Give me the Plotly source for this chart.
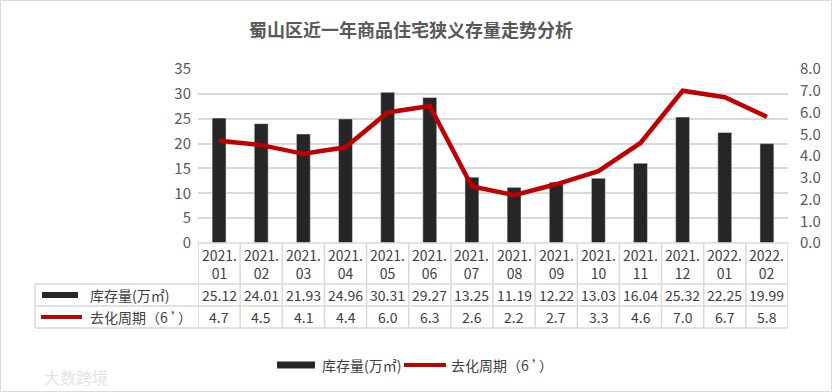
import plotly.graph_objects as go

categories = ["2021.01", "2021.02", "2021.03", "2021.04", "2021.05", "2021.06", "2021.07",
              "2021.08", "2021.09", "2021.10", "2021.11", "2021.12", "2022.01", "2022.02"]
inventory = [25.12, 24.01, 21.93, 24.96, 30.31, 29.27, 13.25, 11.19, 12.22, 13.03, 16.04, 25.32, 22.25, 19.99]
cycle = [4.7, 4.5, 4.1, 4.4, 6.0, 6.3, 2.6, 2.2, 2.7, 3.3, 4.6, 7.0, 6.7, 5.8]
bar_name = "库存量(万㎡)"
line_name = "去化周期（6 ’）"
title_text = "蜀山区近一年商品住宅狭义存量走势分析"

W, H = 832, 392
L, R, T, B = 198, 788, 69, 243
PW, PH = R - L, B - T

def xp(px):
    return (px - L) / PW

def yp(py):
    return (B - py) / PH

BAR_C = "#262626"
LINE_C = "#C00000"
TXT = "#595959"
GRID = "#D9D9D9"
FONT = "Noto Sans CJK SC, Microsoft YaHei, sans-serif"

idx = list(range(len(categories)))

fig = go.Figure()
fig.add_trace(go.Bar(x=idx, y=inventory, name=bar_name, marker_color=BAR_C,
                     yaxis="y", showlegend=False, width=0.33))
fig.add_trace(go.Scatter(x=idx, y=cycle, name=line_name, mode="lines",
                         line=dict(color=LINE_C, width=4.5), yaxis="y2", showlegend=False))

shapes = []
ann = []

# table grid
n = len(categories)
tbl_top, r1, r2, tbl_bot = 243, 284, 306, 328
for k in range(n + 1):
    shapes.append(dict(type="line", xref="x", yref="paper", x0=k - 0.5, x1=k - 0.5,
                       y0=yp(tbl_top), y1=yp(tbl_bot), line=dict(color=GRID, width=1.5)))
for y in (tbl_top, r1, r2, tbl_bot):
    x0 = L if y == tbl_top else 35
    shapes.append(dict(type="line", xref="paper", yref="paper", x0=xp(x0), x1=xp(R),
                       y0=yp(y), y1=yp(y), line=dict(color=GRID, width=1.5)))
shapes.append(dict(type="line", xref="paper", yref="paper", x0=xp(35), x1=xp(35),
                   y0=yp(r1), y1=yp(tbl_bot), line=dict(color=GRID, width=1.5)))

# table legend keys
shapes.append(dict(type="rect", xref="paper", yref="paper", x0=xp(42), x1=xp(78),
                   y0=yp(298), y1=yp(292), fillcolor=BAR_C, line=dict(width=0)))
shapes.append(dict(type="line", xref="paper", yref="paper", x0=xp(41), x1=xp(82),
                   y0=yp(317), y1=yp(317), line=dict(color=LINE_C, width=4)))
ann.append(dict(text=bar_name, xref="paper", yref="paper", x=xp(88), y=yp(295),
                xanchor="left", yanchor="middle", showarrow=False,
                font=dict(size=14, color="#404040", family=FONT)))
ann.append(dict(text=line_name, xref="paper", yref="paper", x=xp(88), y=yp(317),
                xanchor="left", yanchor="middle", showarrow=False,
                font=dict(size=14, color="#404040", family=FONT)))

for i, c in enumerate(categories):
    ann.append(dict(text=c.replace(".", ".<br>"), xref="x", yref="paper", x=i, y=yp(263.5),
                    xanchor="center", yanchor="middle", showarrow=False,
                    font=dict(size=14, color="#404040", family=FONT)))
    ann.append(dict(text=f"{inventory[i]:.2f}", xref="x", yref="paper", x=i, y=yp(295),
                    xanchor="center", yanchor="middle", showarrow=False,
                    font=dict(size=14, color="#404040", family=FONT)))
    ann.append(dict(text=f"{cycle[i]:.1f}", xref="x", yref="paper", x=i, y=yp(317),
                    xanchor="center", yanchor="middle", showarrow=False,
                    font=dict(size=14, color="#404040", family=FONT)))

# bottom legend
shapes.append(dict(type="rect", xref="paper", yref="paper", x0=xp(277), x1=xp(315),
                   y0=yp(368.5), y1=yp(361.5), fillcolor=BAR_C, line=dict(width=0)))
ann.append(dict(text=bar_name, xref="paper", yref="paper", x=xp(320), y=yp(365),
                xanchor="left", yanchor="middle", showarrow=False,
                font=dict(size=14, color="#404040", family=FONT)))
shapes.append(dict(type="line", xref="paper", yref="paper", x0=xp(404), x1=xp(446),
                   y0=yp(365), y1=yp(365), line=dict(color=LINE_C, width=4)))
ann.append(dict(text=line_name, xref="paper", yref="paper", x=xp(449), y=yp(365),
                xanchor="left", yanchor="middle", showarrow=False,
                font=dict(size=14, color="#404040", family=FONT)))

# title
ann.append(dict(text=f"<b>{title_text}</b>", xref="paper", yref="paper", x=xp(411), y=yp(29),
                xanchor="center", yanchor="middle", showarrow=False,
                font=dict(size=18, color=TXT, family=FONT)))

# watermark
ann.append(dict(text="大数跨境", xref="paper", yref="paper", x=xp(42), y=yp(377),
                xanchor="left", yanchor="middle", showarrow=False,
                font=dict(size=16, color="#E3E3E3", family=FONT)))

# outer border
shapes.append(dict(type="rect", xref="paper", yref="paper", x0=xp(0.5), x1=xp(W - 0.5),
                   y0=yp(H - 0.5), y1=yp(0.5), line=dict(color="#D9D9D9", width=1),
                   layer="below"))

fig.update_layout(
    width=W, height=H,
    margin=dict(l=L, r=W - R, t=T, b=H - B, pad=0),
    paper_bgcolor="white", plot_bgcolor="white",
    font=dict(family=FONT, color=TXT, size=15),
    xaxis=dict(range=[-0.5, n - 0.5], showticklabels=False, showgrid=False, zeroline=False,
               showline=False, ticks=""),
    yaxis=dict(range=[0, 35], dtick=5, showgrid=True, gridcolor=GRID, gridwidth=1.5,
               zeroline=False, showline=False, ticks="outside", ticklen=3,
               tickcolor="rgba(0,0,0,0)", tickfont=dict(size=15, color=TXT)),
    yaxis2=dict(range=[0, 8], dtick=1, tickformat=".1f", overlaying="y", side="right",
                showgrid=False, zeroline=False, showline=False, ticks="outside", ticklen=8,
                tickcolor="rgba(0,0,0,0)", tickfont=dict(size=15, color=TXT)),
    shapes=shapes, annotations=ann, showlegend=False,
)

fig.write_html("out.html", config={"displayModeBar": False},
               post_script="document.body.style.margin='0';document.body.style.padding='0';")
